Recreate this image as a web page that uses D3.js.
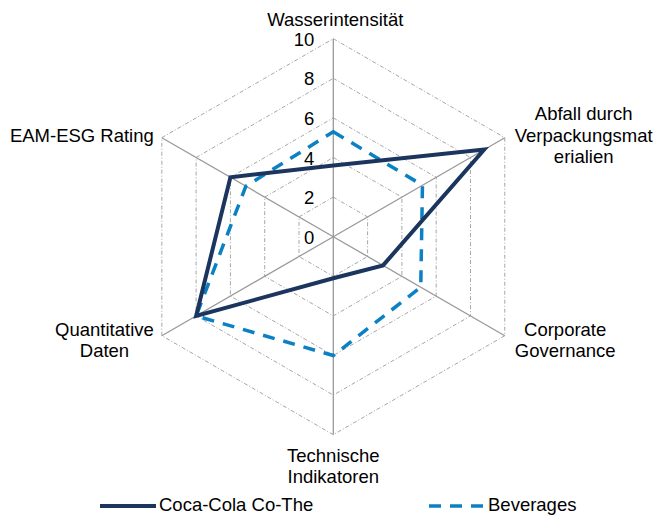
<!DOCTYPE html>
<html>
<head>
<meta charset="utf-8">
<title>Radar</title>
<style>
body { margin: 0; background: #fff; }
text { font-family: Arial, "Liberation Sans", sans-serif; font-size: 18.5px; fill: #000; }
</style>
</head>
<body>
<svg width="657" height="515"></svg>
<script src="https://d3js.org/d3.v7.min.js"></script>
<script>

// data
var categories = ["Wasserintensität", "Abfall durch Verpackungsmaterialien", "Corporate Governance",
                  "Technische Indikatoren", "Quantitative Daten", "EAM-ESG Rating"];
var labelLines = [["Wasserintensität"], ["Abfall durch", "Verpackungsmat", "erialien"],
                  ["Corporate", "Governance"], ["Technische", "Indikatoren"],
                  ["Quantitative", "Daten"], ["EAM-ESG Rating"]];
var seriesNames = ["Coca-Cola Co-The", "Beverages"];
var cocaCola = [3.6, 8.8, 2.9, 2.1, 8.0, 6.0];
var beverages = [5.3, 5.2, 5.1, 6.0, 8.0, 5.1];
var ticks = [0, 2, 4, 6, 8, 10];

var svg = d3.select("svg"),
    cx = 333.3, cy = 236.7, R = 198;

var r = d3.scaleLinear().domain([0, 10]).range([0, R]);
var angle = d3.scaleLinear().domain([0, categories.length]).range([0, 2 * Math.PI]);

function pt(i, v) {
  var a = angle(i);
  return [cx + r(v) * Math.sin(a), cy - r(v) * Math.cos(a)];
}

var g = svg.append("g");

// grid hexagons
ticks.filter(function(t) { return t > 0; }).forEach(function(t) {
  g.append("path")
      .attr("d", d3.line()(categories.map(function(c, i) { return pt(i, t); })) + "Z")
      .attr("fill", "none")
      .attr("stroke", "#a6a6a6")
      .attr("stroke-width", 1)
      .attr("stroke-dasharray", "4,2,1,2");
});

// spokes
categories.forEach(function(c, i) {
  var p = pt(i, 10);
  g.append("line")
      .attr("x1", cx).attr("y1", cy)
      .attr("x2", p[0]).attr("y2", p[1])
      .attr("stroke", "#999")
      .attr("stroke-width", 1.3);
});

// tick labels
g.selectAll(".tick").data(ticks).enter().append("text")
    .attr("class", "tick")
    .attr("x", cx - 19)
    .attr("y", function(d) { return cy - r(d) + 7; })
    .attr("text-anchor", "end")
    .text(function(d) { return d; });

// category labels
labelLines.forEach(function(lines, i) {
  var p = pt(i, 10), lh = 21.5;
  var t = g.append("text").attr("text-anchor", "middle");
  lines.forEach(function(l) { t.append("tspan").text(l); });
  var w = d3.max(t.selectAll("tspan").nodes(), function(n) { return n.getComputedTextLength(); });
  var x, y0;
  if (i === 0) {
    x = p[0] + 2; y0 = p[1] - 13;
  } else if (i === 3) {
    x = p[0]; y0 = p[1] + 27;
  } else {
    var side = p[0] > cx ? 1 : -1;
    x = p[0] + side * (w / 2 + (side > 0 ? 10 : 8));
    y0 = p[1] + (p[1] < cy ? 4 : 11) - (lines.length - 1) * lh / 2;
  }
  t.selectAll("tspan")
      .attr("x", x)
      .attr("y", function(d, k) { return y0 + k * lh; });
});

// series
var line = d3.line().curve(d3.curveLinearClosed);

g.append("path")
    .attr("d", line(beverages.map(function(v, i) { return pt(i, v); })))
    .attr("fill", "none")
    .attr("stroke", "#0b80c3")
    .attr("stroke-width", 3.5)
    .attr("stroke-dasharray", "12,9");

g.append("path")
    .attr("d", line(cocaCola.map(function(v, i) { return pt(i, v); })))
    .attr("fill", "none")
    .attr("stroke", "#1b355e")
    .attr("stroke-width", 4)
    .attr("stroke-linejoin", "miter");

// legend
var legend = svg.append("g");
legend.append("line")
    .attr("x1", 100).attr("x2", 156).attr("y1", 506).attr("y2", 506)
    .attr("stroke", "#1b355e").attr("stroke-width", 4);
legend.append("text").attr("x", 159).attr("y", 511).text(seriesNames[0]);
legend.append("line")
    .attr("x1", 429).attr("x2", 485).attr("y1", 506).attr("y2", 506)
    .attr("stroke", "#0b80c3").attr("stroke-width", 3.5)
    .attr("stroke-dasharray", "12,9");
legend.append("text").attr("x", 488).attr("y", 511).text(seriesNames[1]);

</script>
</body>
</html>
